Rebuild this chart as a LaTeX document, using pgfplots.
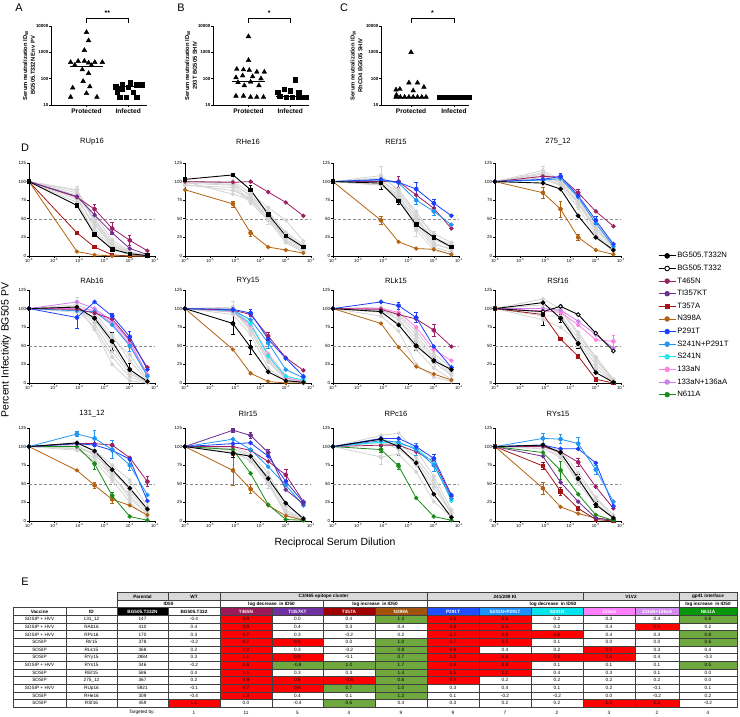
\documentclass[border=0pt]{standalone}
\usepackage{fontspec}
\setmainfont{Liberation Sans}
\usepackage{pgfplots}
\pgfplotsset{compat=1.18}

\definecolor{cT465N}{RGB}{158,31,99}
\definecolor{cTI357KT}{RGB}{107,45,143}
\definecolor{cT357A}{RGB}{163,21,21}
\definecolor{cN398A}{RGB}{179,98,15}
\definecolor{cP291T}{RGB}{28,63,255}
\definecolor{cS241NP}{RGB}{33,150,243}
\definecolor{cS241N}{RGB}{28,232,240}
\definecolor{c133aN}{RGB}{255,128,224}
\definecolor{c133aNA}{RGB}{204,128,240}
\definecolor{cN611A}{RGB}{26,140,26}
\definecolor{cGray}{RGB}{211,211,211}
\definecolor{tR}{RGB}{255,0,0}
\definecolor{tG}{RGB}{112,168,64}
\definecolor{tHd}{RGB}{217,217,217}
\definecolor{hT465N}{RGB}{155,27,90}
\definecolor{hTI357KT}{RGB}{112,48,160}
\definecolor{hT357A}{RGB}{160,0,0}
\definecolor{hN398A}{RGB}{160,82,10}
\definecolor{hP291T}{RGB}{31,79,255}
\definecolor{hS241NP}{RGB}{30,144,255}
\definecolor{hS241N}{RGB}{0,229,238}
\definecolor{h133aN}{RGB}{255,128,255}
\definecolor{h133aNA}{RGB}{211,139,240}
\definecolor{hN611A}{RGB}{10,150,10}

\tikzset{
 pGr/.style={color=cGray, mark=*, mark size=1.7bp, line width=0.8bp},
 pBk/.style={color=black, mark=*, mark size=1.9bp, line width=0.9bp},
 pBkS/.style={color=black, mark=square*, mark size=1.8bp, line width=0.9bp},
 pBo/.style={color=black, mark=*, mark size=1.9bp, line width=0.9bp, mark options={fill=white}},
 p465/.style={color=cT465N, mark=*, mark size=1.8bp, line width=0.8bp},
 p357KT/.style={color=cTI357KT, mark=*, mark size=1.8bp, line width=0.8bp},
 p357A/.style={color=cT357A, mark=square*, mark size=1.7bp, line width=0.8bp},
 p398/.style={color=cN398A, mark=*, mark size=1.7bp, line width=0.8bp},
 p291/.style={color=cP291T, mark=*, mark size=1.9bp, line width=0.8bp},
 p241291/.style={color=cS241NP, mark=*, mark size=1.9bp, line width=0.8bp},
 p241/.style={color=cS241N, mark=*, mark size=1.8bp, line width=0.8bp},
 p133/.style={color=c133aN, mark=*, mark size=1.8bp, line width=0.8bp},
 p133136/.style={color=c133aNA, mark=*, mark size=1.8bp, line width=0.8bp},
 p611/.style={color=cN611A, mark=*, mark size=1.8bp, line width=0.8bp},
 tline/.style={draw=black!75, line width=0.3bp},
 tfont/.style={font=\fontsize{4.7}{5}\selectfont, inner sep=0pt},
}

\newcommand\crv[7]{\addplot[#1] coordinates {(1e-6,#2)(8e-5,#3)(4e-4,#4)(2e-3,#5)(1e-2,#6)(5e-2,#7)};}
\newcommand\eb[2]{\addplot[color=#1, only marks, mark=none, forget plot,
  error bars/.cd, y dir=both, y explicit,
  error bar style={color=#1, line width=0.6bp, solid},
  error mark options={color=#1, rotate=90, mark size=1.7bp, line width=0.6bp}] coordinates {#2};}
\newcommand\half{\addplot[densely dashed, color=black!45, line width=0.5bp, mark=none] coordinates {(1e-6,50)(1e-1,50)};}

\pgfplotsset{
 dpanel/.style={
  scale only axis, width=126bp, height=93bp,
  xmin=1e-6, xmax=1e-1, ymin=0, ymax=125,
  axis x line*=bottom, axis y line*=left,
  axis line style={line width=0.9bp, black},
  xtick={1e-6,1e-5,1e-4,1e-3,1e-2,1e-1},
  xticklabels={10\textsuperscript{-6},10\textsuperscript{-5},10\textsuperscript{-4},10\textsuperscript{-3},10\textsuperscript{-2},10\textsuperscript{-1}},
  xminorticks=false,
  ytick={0,25,50,75,100,125}, yticklabels={0,25,50,75,100,125},
  tick align=outside, major tick length=1.6bp,
  tick style={line width=0.6bp, black},
  x tick label style={font=\fontsize{4.3}{4.6}\selectfont, inner sep=1bp},
  y tick label style={font=\fontsize{4.5}{5}\selectfont, inner sep=1bp},
  title style={font=\fontsize{7.6}{8}\selectfont, at={(0.5,1)}, anchor=center},
  clip=false,
 },
 rowA/.style={title style={yshift=15bp}},
 rowB/.style={title style={yshift=3bp}},
 rowC/.style={title style={yshift=8bp}},
 scpanel/.style={
  scale only axis, height=79bp,
  ymin=10, ymax=10000,
  axis x line*=bottom, axis y line*=left,
  axis line style={line width=0.9bp, black},
  ytick={10,100,1000,10000}, yticklabels={10,100,1000,10000},
  yminorticks=false,
  xtick={1,2}, xticklabels={Protected,Infected},
  major tick length=1.6bp, tick align=outside,
  tick style={line width=0.6bp, black},
  x tick label style={font=\bfseries\fontsize{6.6}{7}\selectfont, inner sep=1.5bp},
  y tick label style={font=\bfseries\fontsize{4.4}{5}\selectfont, inner sep=1bp},
  ylabel style={at={(axis description cs:-0.23,0.5)}, anchor=center, align=center, font=\bfseries\fontsize{5.8}{7.8}\selectfont},
  clip=false,
 },
}

\def\colx{{13,66,117,168,220,272,323,375,427,479,531,583,635,679,737}}
\newcommand\tcell[5]{%
 \fill[#4] (#1,#3) rectangle (#2,#3+7.65);
 \draw[tline] (#1,#3) rectangle (#2,#3+7.65);
 \node[tfont] at ({(#1+#2)/2},{#3+3.9}) {#5};
}
\newcommand\trow[2]{%
 \foreach \c/\t/\f in {#2}{%
  \pgfmathsetmacro\xa{\colx[\c-1]}%
  \pgfmathsetmacro\xb{\colx[\c]}%
  \pgfmathsetmacro\yt{615.2+7.65*(#1-1)}%
  \tcell{\xa}{\xb}{\yt}{\f}{\t}%
 }%
}
\newcommand\hcell[6]{%
 \fill[#4] (#1,#3) rectangle (#2,#3+7.6);
 \draw[tline] (#1,#3) rectangle (#2,#3+7.6);
 \node[tfont, text=#5, font=\bfseries\fontsize{4.7}{5}\selectfont] at ({(#1+#2)/2},{#3+3.9}) {#6};
}

\begin{document}
\begin{tikzpicture}
\path[use as bounding box] (0,0) rectangle (740bp,717bp);

% ---------------- Panel A ----------------
\begin{axis}[ymode=log, scpanel, width=96bp, xmin=0.15, xmax=2.45, at={(51bp,612bp)}, anchor=south west,
  ylabel={Serum neutralization ID\textsubscript{50}\\BG505.T332N Env PV}]
\addplot[only marks, mark=triangle*, mark size=2.7bp, black] coordinates {
 (1.0,5800)(1.05,2800)(0.95,1200)(0.62,420)(0.8,460)(0.95,470)(1.05,400)(1.2,420)(1.38,420)
 (0.72,330)(1.12,320)(0.9,220)(1.05,160)(0.92,80)(0.67,45)(1.08,50)(1.0,28)(0.62,20)(1.25,20)};
\addplot[only marks, mark=square*, mark size=2.2bp, black] coordinates {
 (1.7,50)(1.86,60)(2.05,70)(2.2,60)(2.34,60)(1.84,40)(2.0,47)(1.74,30)(2.12,30)(1.95,20)(1.8,20)(2.2,20)};
\addplot[black, line width=0.9bp, mark=none] coordinates {(0.6,280)(1.4,280)};
\addplot[black, line width=0.9bp, mark=none] coordinates {(1.65,50)(2.35,50)};
\draw[line width=0.6bp] (axis cs:1,13000) -- (axis cs:1,19000) -- (axis cs:2,19000) -- (axis cs:2,13000);
\node[font=\bfseries\fontsize{7}{7}\selectfont] at (axis cs:1.5,31000) {**};
\end{axis}

% ---------------- Panel B ----------------
\begin{axis}[ymode=log, scpanel, width=96bp, xmin=0.15, xmax=2.45, at={(213bp,612bp)}, anchor=south west,
  ylabel={Serum neutralization ID\textsubscript{50}\\293T BG505 SHIV}]
\addplot[only marks, mark=triangle*, mark size=2.7bp, black] coordinates {
 (1.0,4000)(1.0,500)(0.72,230)(0.88,220)(1.02,210)(1.2,180)(1.38,180)(0.7,110)(0.86,130)(1.1,120)
 (1.3,100)(0.75,72)(1.05,75)(0.9,55)(1.25,55)(0.7,22)(0.88,22)(1.05,20)(1.2,20)(1.36,20)};
\addplot[only marks, mark=square*, mark size=2.2bp, black] coordinates {
 (2.12,90)(1.85,40)(1.7,30)(2.0,35)(2.2,30)(1.75,22)(1.9,20)(2.05,20)(2.2,20)(2.3,20)(2.38,20)};
\addplot[black, line width=0.9bp, mark=none] coordinates {(0.6,75)(1.4,75)};
\addplot[black, line width=0.9bp, mark=none] coordinates {(1.65,22)(2.35,22)};
\draw[line width=0.6bp] (axis cs:1,13000) -- (axis cs:1,19000) -- (axis cs:2,19000) -- (axis cs:2,13000);
\node[font=\bfseries\fontsize{7}{7}\selectfont] at (axis cs:1.5,31000) {*};
\end{axis}

% ---------------- Panel C ----------------
\begin{axis}[ymode=log, scpanel, width=88bp, xmin=0.3, xmax=2.35, at={(381bp,612bp)}, anchor=south west,
  ylabel style={at={(axis description cs:-0.28,0.5)}},
  ylabel={Serum neutralization ID\textsubscript{50}\\RhCD4 BG505 SHIV}]
\addplot[only marks, mark=triangle*, mark size=2.7bp, black] coordinates {
 (1.0,1000)(0.95,70)(1.15,70)(1.3,48)(0.65,38)(0.74,40)(1.05,35)(0.66,24)
 (0.65,20)(0.75,20)(0.85,20)(0.95,20)(1.05,20)(1.15,20)(1.25,20)(1.35,20)};
\addplot[only marks, mark=square*, mark size=2.2bp, black] coordinates {
 (1.65,20)(1.72,20)(1.79,20)(1.86,20)(1.93,20)(2.0,20)(2.07,20)(2.14,20)(2.21,20)(2.28,20)(2.35,20)};
\addplot[black, line width=0.9bp, mark=none] coordinates {(0.6,20)(1.4,20)};
\draw[line width=0.6bp] (axis cs:1,13000) -- (axis cs:1,19000) -- (axis cs:2,19000) -- (axis cs:2,13000);
\node[font=\bfseries\fontsize{7}{7}\selectfont] at (axis cs:1.5,31000) {*};
\end{axis}

% ---------------- Panel D, row 1 ----------------
\begin{axis}[xmode=log, dpanel, rowA, at={(29bp,461bp)}, anchor=south west, title={RUp16}]
\half
\crv{pGr}{100}{89}{48}{15}{4}{1}
\crv{pGr}{100}{88}{45}{12}{3}{0}
\crv{pGr}{100}{80}{38}{10}{2}{0}
\crv{pGr}{100}{72}{33}{8}{2}{0}
\crv{pGr}{100}{85}{55}{22}{6}{1}
\crv{pGr}{100}{76}{42}{14}{4}{0}
\crv{pGr}{100}{82}{50}{18}{5}{1}
\eb{cGray}{(8e-5,89) +- (0,5)}
\crv{p465}{100}{79}{63}{37}{21}{7}
\eb{cT465N}{(4e-4,63) +- (0,6) (2e-3,37) +- (0,8) (1e-2,21) +- (0,7)}
\crv{p357KT}{100}{80}{55}{31}{10}{2}
\crv{p357A}{100}{31}{12}{1.5}{0}{0}
\crv{p398}{100}{6}{1.5}{0}{0}{0}
\crv{pBkS}{100}{68}{29}{9}{3}{0.5}
\end{axis}

\begin{axis}[xmode=log, dpanel, rowA, at={(185bp,461bp)}, anchor=south west, title={RHe16}]
\half
\crv{pGr}{100}{98}{80}{60}{30}{12}
\crv{pGr}{98}{95}{75}{50}{22}{8}
\crv{pGr}{96}{88}{78}{55}{20}{6}
\crv{pGr}{100}{100}{85}{65}{48}{20}
\crv{pGr}{95}{92}{72}{48}{18}{5}
\crv{pGr}{100}{83}{76}{52}{25}{10}
\crv{pGr}{100}{96}{82}{58}{32}{15}
\eb{cGray}{(8e-5,100) +- (0,8) (4e-4,78) +- (0,8) (2e-3,50) +- (0,7)}
\crv{p465}{100}{99}{100}{86}{72}{54}
\crv{p398}{89}{70}{31}{12}{8}{4}
\eb{cN398A}{(8e-5,70) +- (0,4) (4e-4,31) +- (0,4)}
\crv{pBkS}{103}{109}{89}{56}{27}{12}
\eb{black}{(4e-4,89) +- (0,6)}
\end{axis}

\begin{axis}[xmode=log, dpanel, rowA, at={(333bp,461bp)}, anchor=south west, title={REf15}]
\half
\crv{pGr}{100}{108}{88}{60}{25}{15}
\crv{pGr}{100}{96}{80}{50}{18}{8}
\crv{pGr}{100}{95}{78}{40}{12}{5}
\crv{pGr}{100}{105}{90}{55}{30}{18}
\crv{pGr}{100}{102}{85}{35}{8}{2}
\crv{pGr}{100}{98}{82}{45}{15}{10}
\crv{pGr}{100}{100}{86}{52}{22}{12}
\eb{cGray}{(8e-5,108) +- (0,12) (2e-3,35) +- (0,8) (1e-2,25) +- (0,8)}
\crv{p398}{100}{48}{19}{10}{9}{2}
\eb{cN398A}{(8e-5,48) +- (0,5)}
\crv{p465}{100}{100}{100}{82}{64}{37}
\eb{cT465N}{(4e-4,100) +- (0,7)}
\crv{p241291}{100}{102}{98}{75}{60}{42}
\eb{cS241NP}{(2e-3,75) +- (0,6) (1e-2,60) +- (0,5)}
\crv{p291}{100}{103}{99}{90}{71}{54}
\eb{cP291T}{(2e-3,90) +- (0,9) (1e-2,71) +- (0,5)}
\crv{pBkS}{100}{98}{74}{42}{25}{12}
\eb{black}{(8e-5,98) +- (0,9) (4e-4,74) +- (0,5)}
\end{axis}

\begin{axis}[xmode=log, dpanel, rowA, at={(495bp,461bp)}, anchor=south west, title={275\_12}]
\half
\crv{pGr}{100}{112}{100}{78}{40}{12}
\crv{pGr}{100}{108}{98}{70}{35}{10}
\crv{pGr}{100}{105}{96}{75}{45}{15}
\crv{pGr}{100}{115}{102}{80}{30}{8}
\crv{pGr}{100}{103}{95}{65}{28}{5}
\crv{pGr}{100}{110}{99}{72}{38}{11}
\eb{cGray}{(8e-5,112) +- (0,8)}
\crv{p398}{100}{85}{63}{25}{8}{2}
\eb{cN398A}{(8e-5,85) +- (0,8) (4e-4,63) +- (0,11) (2e-3,25) +- (0,4)}
\crv{p465}{100}{107}{106}{85}{60}{40}
\eb{cT465N}{(2e-3,85) +- (0,5)}
\crv{p241291}{100}{102}{104}{79}{44}{13}
\crv{p291}{100}{103}{107}{81}{48}{16}
\eb{cP291T}{(4e-4,107) +- (0,4) (1e-2,48) +- (0,6)}
\crv{pBk}{100}{98}{90}{54}{25}{8}
\end{axis}

% ---------------- Panel D, row 2 ----------------
\begin{axis}[xmode=log, dpanel, rowB, at={(29bp,334bp)}, anchor=south west, title={RAb16}]
\half
\crv{pGr}{100}{105}{95}{65}{30}{3}
\crv{pGr}{100}{100}{85}{50}{15}{1}
\crv{pGr}{100}{98}{75}{35}{8}{0}
\crv{pGr}{100}{103}{72}{25}{3}{0}
\crv{pGr}{100}{95}{90}{60}{38}{5}
\crv{pGr}{100}{102}{80}{42}{12}{1}
\eb{cGray}{(8e-5,105) +- (0,10) (1e-2,38) +- (0,8)}
\crv{p133}{100}{100}{98}{80}{52}{11}
\crv{p133136}{100}{109}{100}{83}{56}{11}
\crv{p241291}{100}{97}{96}{78}{50}{9}
\eb{cS241NP}{(1e-2,50) +- (0,7)}
\crv{p465}{100}{99}{94}{86}{58}{21}
\crv{p291}{100}{88}{109}{90}{62}{18}
\eb{cP291T}{(8e-5,88) +- (0,15) (2e-3,90) +- (0,4) (1e-2,62) +- (0,8)}
\crv{pBk}{100}{102}{87}{56}{18}{2}
\eb{black}{(4e-4,87) +- (0,6) (2e-3,56) +- (0,12) (1e-2,18) +- (0,9)}
\end{axis}

\begin{axis}[xmode=log, dpanel, rowB, at={(185bp,334bp)}, anchor=south west, title={RYy15}]
\half
\crv{pGr}{100}{95}{75}{30}{6}{1}
\crv{pGr}{100}{98}{70}{28}{5}{0}
\crv{pGr}{100}{92}{65}{20}{3}{0}
\crv{pGr}{100}{100}{80}{40}{10}{2}
\crv{pGr}{100}{102}{72}{33}{7}{1}
\eb{cGray}{(8e-5,102) +- (0,8)}
\crv{p398}{100}{45}{13}{2}{0}{0}
\crv{p133}{100}{96}{78}{38}{7}{2}
\crv{p241}{100}{97}{80}{36}{9}{4}
\crv{p241291}{100}{98}{85}{54}{18}{7}
\eb{cS241NP}{(2e-3,54) +- (0,8)}
\crv{p465}{100}{98}{92}{63}{34}{17}
\eb{cT465N}{(2e-3,63) +- (0,5)}
\crv{p291}{100}{99}{94}{59}{33}{9}
\eb{cP291T}{(4e-4,94) +- (0,5)}
\crv{pBk}{100}{80}{48}{15}{3}{1}
\eb{black}{(8e-5,80) +- (0,15) (4e-4,48) +- (0,9)}
\end{axis}

\begin{axis}[xmode=log, dpanel, rowB, at={(333bp,334bp)}, anchor=south west, title={RLk15}]
\half
\crv{pGr}{100}{98}{90}{65}{35}{15}
\crv{pGr}{100}{100}{85}{55}{28}{10}
\crv{pGr}{100}{95}{80}{45}{20}{5}
\crv{pGr}{100}{102}{92}{70}{40}{20}
\crv{pGr}{100}{90}{70}{25}{8}{2}
\crv{pGr}{100}{97}{86}{60}{32}{12}
\eb{cGray}{(2e-3,65) +- (0,8) (1e-2,28) +- (0,6)}
\crv{p398}{100}{80}{48}{22}{12}{4}
\crv{p133}{100}{100}{95}{75}{45}{30}
\crv{p465}{100}{99}{92}{86}{71}{49}
\eb{cT465N}{(1e-2,71) +- (0,8)}
\crv{p291}{100}{109}{104}{88}{49}{21}
\eb{cP291T}{(4e-4,104) +- (0,5) (2e-3,88) +- (0,7)}
\crv{pBk}{100}{96}{78}{50}{30}{18}
\eb{black}{(2e-3,50) +- (0,6) (1e-2,30) +- (0,4)}
\end{axis}

\begin{axis}[xmode=log, dpanel, rowB, at={(495bp,334bp)}, anchor=south west, title={RSf16}]
\half
\crv{pGr}{100}{113}{100}{68}{35}{5}
\crv{pGr}{100}{90}{90}{60}{30}{3}
\crv{pGr}{100}{85}{75}{55}{25}{2}
\crv{pGr}{100}{105}{95}{50}{20}{1}
\crv{pGr}{100}{95}{98}{65}{33}{4}
\eb{cGray}{(8e-5,90) +- (0,12) (4e-4,98) +- (0,8)}
\crv{p357A}{100}{92}{59}{36}{5}{0}
\crv{p133}{100}{97}{95}{78}{58}{56}
\eb{c133aN}{(5e-2,56) +- (0,8)}
\crv{p133136}{100}{100}{98}{83}{65}{47}
\crv{pBo}{100}{96}{103}{92}{67}{43}
\crv{pBk}{100}{108}{87}{53}{14}{1}
\eb{black}{(8e-5,92) +- (0,15) (4e-4,87) +- (0,6) (2e-3,53) +- (0,7)}
\end{axis}

% ---------------- Panel D, row 3 ----------------
\begin{axis}[xmode=log, dpanel, rowC, at={(29bp,196bp)}, anchor=south west, title={131\_12}]
\half
\crv{pGr}{100}{95}{85}{60}{35}{8}
\crv{pGr}{100}{100}{90}{65}{45}{15}
\crv{pGr}{100}{105}{95}{75}{55}{20}
\crv{pGr}{100}{98}{80}{55}{25}{5}
\crv{pGr}{100}{102}{88}{70}{40}{12}
\crv{pGr}{100}{97}{92}{62}{30}{10}
\eb{cGray}{(2e-3,60) +- (0,8) (1e-2,40) +- (0,12)}
\crv{p398}{100}{68}{48}{29}{21}{8}
\eb{cN398A}{(4e-4,48) +- (0,4) (2e-3,29) +- (0,5)}
\crv{p611}{100}{100}{77}{34}{6}{1}
\eb{cN611A}{(4e-4,77) +- (0,7) (2e-3,34) +- (0,4)}
\crv{p465}{100}{104}{104}{102}{85}{53}
\eb{cT465N}{(2e-3,102) +- (0,7) (5e-2,53) +- (0,7)}
\crv{p291}{100}{104}{102}{95}{83}{27}
\crv{p241291}{100}{117}{111}{96}{75}{35}
\eb{cS241NP}{(8e-5,117) +- (0,3) (4e-4,111) +- (0,11) (2e-3,96) +- (0,12) (1e-2,75) +- (0,7)}
\crv{pBk}{100}{105}{94}{69}{44}{16}
\end{axis}

\begin{axis}[xmode=log, dpanel, rowC, at={(185bp,196bp)}, anchor=south west, title={RIr15}]
\half
\crv{pGr}{100}{98}{85}{60}{15}{3}
\crv{pGr}{100}{95}{80}{50}{10}{2}
\crv{pGr}{100}{100}{90}{65}{20}{5}
\crv{pGr}{100}{92}{82}{55}{8}{1}
\crv{pGr}{100}{97}{88}{52}{12}{3}
\eb{cGray}{(2e-3,52) +- (0,8)}
\crv{p398}{100}{68}{43}{21}{7}{1}
\eb{cN398A}{(8e-5,68) +- (0,20) (4e-4,43) +- (0,6)}
\crv{p611}{100}{96}{64}{22}{2}{1}
\crv{p465}{100}{100}{95}{80}{62}{26}
\eb{cT465N}{(1e-2,62) +- (0,7)}
\crv{p241291}{100}{110}{96}{73}{48}{21}
\crv{p291}{100}{104}{105}{87}{53}{25}
\crv{p357KT}{100}{122}{115}{92}{42}{23}
\eb{cTI357KT}{(8e-5,122) +- (0,3) (4e-4,115) +- (0,4) (2e-3,92) +- (0,5)}
\crv{pBk}{100}{91}{87}{57}{24}{3}
\eb{black}{(8e-5,91) +- (0,5)}
\end{axis}

\begin{axis}[xmode=log, dpanel, rowC, at={(333bp,196bp)}, anchor=south west, title={RPc16}]
\half
\crv{pGr}{100}{115}{118}{95}{60}{15}
\crv{pGr}{100}{86}{90}{66}{26}{5}
\crv{pGr}{100}{105}{100}{75}{45}{10}
\crv{pGr}{100}{110}{105}{85}{55}{8}
\crv{pGr}{100}{108}{96}{80}{50}{12}
\eb{cGray}{(8e-5,86) +- (0,10) (2e-3,95) +- (0,10)}
\crv{p611}{100}{96}{74}{31}{6}{1}
\eb{cN611A}{(8e-5,96) +- (0,4) (4e-4,74) +- (0,4)}
\crv{p465}{100}{102}{102}{93}{80}{33}
\crv{p241}{100}{106}{104}{98}{78}{27}
\crv{p241291}{100}{108}{106}{96}{75}{30}
\eb{cS241NP}{(2e-3,96) +- (0,8) (1e-2,75) +- (0,8)}
\crv{p291}{100}{111}{111}{100}{84}{35}
\eb{cP291T}{(4e-4,100) +- (0,12) (1e-2,84) +- (0,5)}
\crv{pBk}{100}{110}{100}{78}{36}{5}
\end{axis}

\begin{axis}[xmode=log, dpanel, rowC, at={(495bp,196bp)}, anchor=south west, title={RYs15}]
\half
\crv{pGr}{100}{100}{90}{60}{30}{5}
\crv{pGr}{100}{98}{85}{55}{25}{3}
\crv{pGr}{100}{102}{95}{65}{32}{8}
\crv{pGr}{100}{97}{88}{50}{22}{4}
\crv{p398}{100}{44}{19}{10}{4}{1}
\eb{cN398A}{(8e-5,44) +- (0,8)}
\crv{p357A}{100}{74}{40}{17}{2}{0}
\eb{cT357A}{(8e-5,74) +- (0,5) (4e-4,40) +- (0,5)}
\crv{p357KT}{100}{87}{52}{26}{4}{1}
\crv{p611}{100}{92}{68}{36}{8}{1}
\eb{cN611A}{(4e-4,68) +- (0,12)}
\crv{p465}{100}{100}{93}{79}{46}{17}
\eb{cT465N}{(2e-3,79) +- (0,5)}
\crv{p291}{100}{102}{97}{97}{78}{20}
\crv{p241291}{100}{111}{110}{104}{69}{26}
\eb{cS241NP}{(8e-5,111) +- (0,7) (4e-4,110) +- (0,6) (2e-3,104) +- (0,8) (1e-2,69) +- (0,6)}
\crv{pBk}{100}{102}{92}{57}{22}{4}
\eb{black}{(2e-3,57) +- (0,6) (1e-2,22) +- (0,4)}
\end{axis}

% ---------------- Legend ----------------
\begin{axis}[hide axis, scale only axis, width=20bp, height=20bp,
  at={(658bp,466bp)}, anchor=north west, xmin=0, xmax=1, ymin=0, ymax=1,
  legend style={at={(0,1)}, anchor=north west, draw=none, fill=none,
    font=\fontsize{7.8}{8}\selectfont, inner sep=0pt, row sep=3.3bp,
    nodes={inner sep=1.2bp}},
  legend cell align=left]
\addlegendimage{pBk, mark size=2.3bp}\addlegendentry{BG505.T332N}
\addlegendimage{pBo, mark size=2.3bp}\addlegendentry{BG505.T332}
\addlegendimage{p465, mark size=2.3bp}\addlegendentry{T465N}
\addlegendimage{p357KT, mark size=2.3bp}\addlegendentry{TI357KT}
\addlegendimage{p357A, mark size=2.2bp}\addlegendentry{T357A}
\addlegendimage{p398, mark size=2.3bp}\addlegendentry{N398A}
\addlegendimage{p291, mark size=2.3bp}\addlegendentry{P291T}
\addlegendimage{p241291, mark size=2.3bp}\addlegendentry{S241N+P291T}
\addlegendimage{p241, mark size=2.3bp}\addlegendentry{S241N}
\addlegendimage{p133, mark size=2.3bp}\addlegendentry{133aN}
\addlegendimage{p133136, mark size=2.3bp}\addlegendentry{133aN+136aA}
\addlegendimage{p611, mark size=2.3bp}\addlegendentry{N611A}
\end{axis}

% ---------------- Labels ----------------
\node[font=\fontsize{11}{11}\selectfont] at (19bp,709bp) {A};
\node[font=\fontsize{11}{11}\selectfont] at (181bp,709bp) {B};
\node[font=\fontsize{11}{11}\selectfont] at (344bp,709bp) {C};
\node[font=\fontsize{11}{11}\selectfont] at (25bp,569bp) {D};
\node[font=\fontsize{11}{11}\selectfont] at (25bp,135bp) {E};
\node[font=\fontsize{10.5}{11}\selectfont, rotate=90] at (6bp,367bp) {Percent Infectivity BG505 PV};
\node[font=\fontsize{10.5}{11}\selectfont] at (335bp,174bp) {Reciprocal Serum Dilution};

% ---------------- Table E ----------------
\begin{scope}[shift={(0,717bp)}, x=1bp, y=-1bp]
\hcell{117}{168}{592.5}{tHd}{black}{Parental}
\hcell{168}{220}{592.5}{tHd}{black}{WT}
\hcell{220}{427}{592.5}{tHd}{black}{C3/465 epitope cluster}
\hcell{427}{583}{592.5}{tHd}{black}{241/289 KI}
\hcell{583}{679}{592.5}{tHd}{black}{V1V2}
\hcell{679}{737}{592.5}{tHd}{black}{gp41 interface}
\hcell{117}{220}{600.1}{white}{black}{ID50}
\hcell{220}{323}{600.1}{white}{black}{log decrease\ \ in ID50}
\hcell{323}{427}{600.1}{white}{black}{log increase\ \ in ID50}
\hcell{427}{679}{600.1}{white}{black}{log decrease\ \ in ID50}
\hcell{679}{737}{600.1}{white}{black}{log increase\ \ in ID50}
\hcell{13}{66}{607.6}{white}{black}{Vaccine}
\hcell{66}{117}{607.6}{white}{black}{ID}
\hcell{117}{168}{607.6}{black}{white}{BG505.T332N}
\hcell{168}{220}{607.6}{white}{black}{BG505.T332}
\hcell{220}{272}{607.6}{hT465N}{white}{T465N}
\hcell{272}{323}{607.6}{hTI357KT}{white}{TI357KT}
\hcell{323}{375}{607.6}{hT357A}{white}{T357A}
\hcell{375}{427}{607.6}{hN398A}{white}{N398A}
\hcell{427}{479}{607.6}{hP291T}{white}{P291T}
\hcell{479}{531}{607.6}{hS241NP}{white}{S241N+P291T}
\hcell{531}{583}{607.6}{hS241N}{white}{S241N}
\hcell{583}{635}{607.6}{h133aN}{white}{133aN}
\hcell{635}{679}{607.6}{h133aNA}{white}{133aN+136aA}
\hcell{679}{737}{607.6}{hN611A}{white}{N611A}
\trow{1}{1/{SOSIP + HVV}/white, 2/131\_12/white, 3/147/white, 4/-0.4/white, 5/0.9/tR, 6/0.0/white, 7/0.4/white, 8/1.3/tG, 9/0.6/tR, 10/0.6/tR, 11/0.2/white, 12/0.3/white, 13/0.4/white, 14/0.8/tG}
\trow{2}{1/{SOSIP + HVV}/white, 2/RAb16/white, 3/410/white, 4/0.4/white, 5/0.8/tR, 6/0.4/white, 7/0.3/white, 8/0.4/white, 9/0.8/tR, 10/0.5/tR, 11/0.2/white, 12/0.4/white, 13/0.5/tR, 14/0.2/white}
\trow{3}{1/{SOSIP + HVV}/white, 2/RPc16/white, 3/170/white, 4/0.3/white, 5/0.7/tR, 6/0.3/white, 7/-0.2/white, 8/0.2/white, 9/0.7/tR, 10/0.6/tR, 11/0.6/tR, 12/0.4/white, 13/0.3/white, 14/0.8/tG}
\trow{4}{1/SOSIP/white, 2/RIr15/white, 3/378/white, 4/-0.2/white, 5/0.7/tR, 6/0.5/tR, 7/0.0/white, 8/1.0/tG, 9/0.7/tR, 10/0.5/tR, 11/0.1/white, 12/0.0/white, 13/0.0/white, 14/0.6/tG}
\trow{5}{1/SOSIP/white, 2/RLk15/white, 3/368/white, 4/0.2/white, 5/1.2/tR, 6/0.3/white, 7/-0.2/white, 8/0.8/tG, 9/0.8/tR, 10/0.4/white, 11/0.2/white, 12/0.5/tR, 13/0.3/white, 14/0.4/white}
\trow{6}{1/SOSIP/white, 2/RYy15/white, 3/2884/white, 4/0.3/white, 5/1.1/tR, 6/0.8/tR, 7/-0.1/white, 8/0.7/tG, 9/1.0/tR, 10/0.8/tR, 11/0.8/tR, 12/0.8/tR, 13/0.4/white, 14/-0.3/white}
\trow{7}{1/{SOSIP + HVV}/white, 2/RYs15/white, 3/346/white, 4/-0.2/white, 5/0.5/tR, 6/-0.8/tG, 7/1.0/tG, 8/1.7/tG, 9/0.9/tR, 10/0.9/tR, 11/0.1/white, 12/0.1/white, 13/0.1/white, 14/0.5/tG}
\trow{8}{1/SOSIP/white, 2/REf15/white, 3/586/white, 4/0.4/white, 5/1.1/tR, 6/0.3/white, 7/0.3/white, 8/1.4/tG, 9/1.5/tR, 10/1.1/tR, 11/0.4/white, 12/0.3/white, 13/0.1/white, 14/0.0/white}
\trow{9}{1/SOSIP/white, 2/275\_12/white, 3/367/white, 4/0.2/white, 5/0.9/tR, 6/0.6/tR, 7/-0.5/tR, 8/0.6/tG, 9/0.5/tR, 10/0.2/white, 11/0.2/white, 12/0.2/white, 13/0.2/white, 14/0.0/white}
\trow{10}{1/{SOSIP + HVV}/white, 2/RUp16/white, 3/5921/white, 4/-0.1/white, 5/0.7/tR, 6/0.6/tR, 7/0.7/tG, 8/1.0/tG, 9/0.3/white, 10/0.4/white, 11/0.1/white, 12/0.2/white, 13/-0.1/white, 14/0.1/white}
\trow{11}{1/SOSIP/white, 2/RHe16/white, 3/309/white, 4/-0.4/white, 5/1.3/tR, 6/0.4/white, 7/0.1/white, 8/1.2/tG, 9/0.1/white, 10/-0.2/white, 11/-0.2/white, 12/0.0/white, 13/-0.2/white, 14/0.2/white}
\trow{12}{1/SOSIP/white, 2/RSf16/white, 3/459/white, 4/1.1/tR, 5/0.0/white, 6/-0.4/white, 7/0.5/tG, 8/0.4/white, 9/0.3/white, 10/0.2/white, 11/0.2/white, 12/1.3/tR, 13/1.2/tR, 14/-0.2/white}
\node[tfont] at (142,712.5) {Targeted by:};
\foreach \c/\t in {4/1, 5/11, 6/5, 7/4, 8/9, 9/9, 10/7, 11/2, 12/3, 13/2, 14/4}{%
  \pgfmathsetmacro\xa{\colx[\c-1]}%
  \pgfmathsetmacro\xb{\colx[\c]}%
  \node[tfont] at ({(\xa+\xb)/2},712.5) {\t};
}
\end{scope}
\end{tikzpicture}
\end{document}
